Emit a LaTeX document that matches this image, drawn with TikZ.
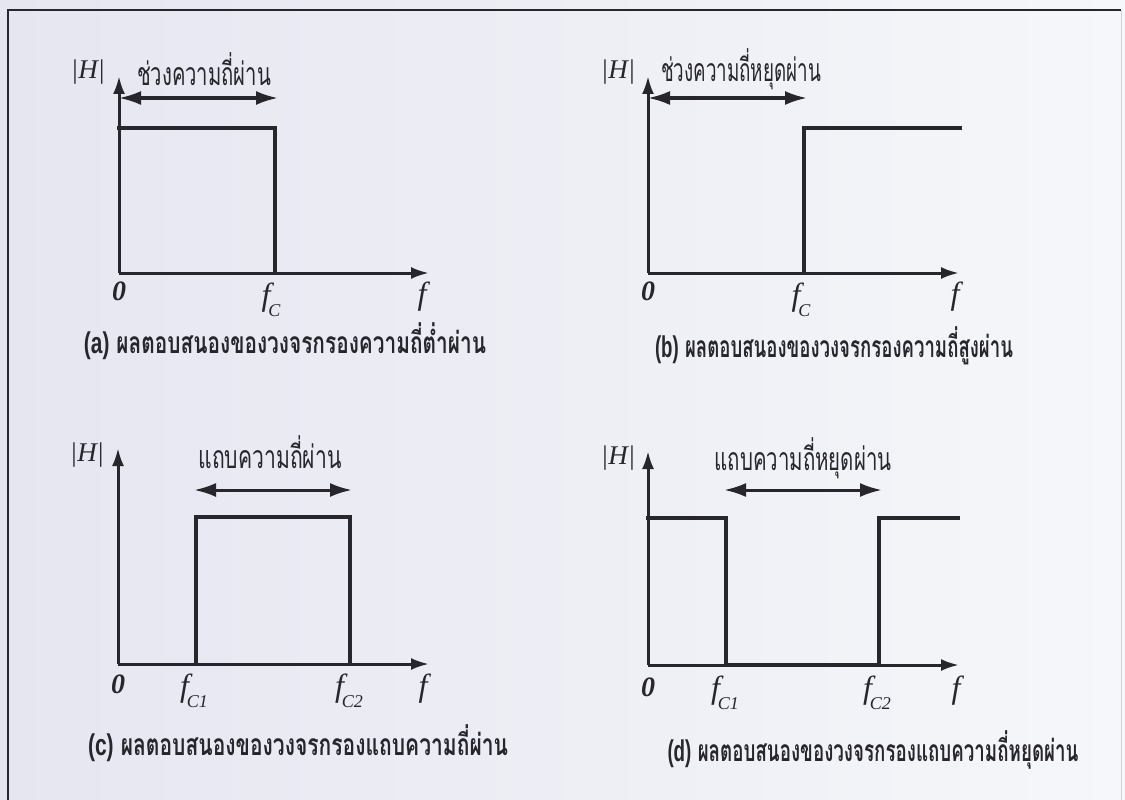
\documentclass[tikz,border=0pt]{standalone}
\usepackage{fontspec}
\usepackage{graphicx}
\setmainfont{Liberation Serif}
\setsansfont{Liberation Sans}
\newfontfamily\thaifont[Script=Thai]{Loma}
\usetikzlibrary{arrows.meta}
\definecolor{bgL}{RGB}{229,230,240}
\definecolor{bgR}{RGB}{246,247,250}
\definecolor{ink}{RGB}{38,38,44}
\newcommand\thw[2]{\resizebox{#1}{\height}{\thaifont #2}}
\newcommand\fsub[1]{\textit{f}\kern-2pt\raisebox{-0.36em}{\fontsize{18pt}{18pt}\selectfont\textit{#1}}}
\tikzset{
  axisline/.style={draw=ink, line width=3pt, -{Latex[length=18pt,width=12pt]}},
  resp/.style={draw=ink, line width=4pt, line cap=rect},
  dbl/.style={draw=ink, line width=3pt, {Latex[length=22pt,width=14pt]}-{Latex[length=22pt,width=14pt]}},
  ttl/.style={inner sep=0pt, text=ink, font=\fontsize{32pt}{32pt}\selectfont},
  capt/.style={inner sep=0pt, text=ink, font=\fontsize{30pt}{30pt}\selectfont\bfseries},
  lbl/.style={inner sep=0pt, text=ink, font=\fontsize{27pt}{27pt}\selectfont\itshape},
  zlbl/.style={inner sep=0pt, text=ink, font=\fontsize{28pt}{28pt}\selectfont\bfseries\itshape},
  flbl/.style={inner sep=0pt, text=ink, font=\fontsize{32pt}{32pt}\selectfont\itshape}
}
\begin{document}
\begin{tikzpicture}[x=1pt,y=-1pt]
\useasboundingbox (0,0) rectangle (1125,800);
\fill[left color=bgL, right color=bgR] (0,0) rectangle (1125,800);
% frame
\draw[line width=1.8pt, ink] (8,800) -- (8,10) -- (1121,10);
\draw[line width=0.8pt, gray!35] (1121,10) -- (1121,800);

% ---------- panel (a) ----------
\coordinate (a0) at (119,273);
\coordinate (ay) at (119,76);
\coordinate (ax) at (429,273);
\coordinate (aH) at (119,128);
\coordinate (aT) at (275,128);
\coordinate (aB) at (275,273);
\coordinate (aL) at (119,98);
\coordinate (aR) at (278,98);
\draw[axisline] (a0) -- (ay);
\draw[axisline] (a0) -- (ax);
\draw[resp] (aH) -- (aT) -- (aB);
\draw[dbl] (aL) -- (aR);
\node[lbl] (aHl) at (88,72) {|H|};
\node[ttl] (aTi) at (204,69) {\thw{134pt}{ช่วงความถี่ผ่าน}};
\node[zlbl] (azero) at (119,291) {0};
\node[flbl] (afc) at (271,300) {\fsub{C}};
\node[flbl] (af) at (422,297) {f};
\node[capt] (acap) at (285,341) {\thw{402pt}{{\sffamily (a)} ผลตอบสนองของวงจรกรองความถี่ต่ำผ่าน}};

% ---------- panel (b) ----------
\coordinate (b0) at (648,273);
\coordinate (by) at (648,76);
\coordinate (bx) at (959,273);
\coordinate (bB) at (804,273);
\coordinate (bT) at (804,128);
\coordinate (bE) at (960,128);
\coordinate (bL) at (648,98);
\coordinate (bR) at (807,98);
\draw[axisline] (b0) -- (by);
\draw[axisline] (b0) -- (bx);
\draw[resp] (bB) -- (bT) -- (bE);
\draw[dbl] (bL) -- (bR);
\node[lbl] (bHl) at (618,72) {|H|};
\node[ttl] (bTi) at (741,69) {\thw{160pt}{ช่วงความถี่หยุดผ่าน}};
\node[zlbl] (bzero) at (648,291) {0};
\node[flbl] (bfc) at (801,300) {\fsub{C}};
\node[flbl] (bf) at (955,297) {f};
\node[capt] (bcap) at (834,346) {\thw{358pt}{{\sffamily (b)} ผลตอบสนองของวงจรกรองความถี่สูงผ่าน}};

% ---------- panel (c) ----------
\coordinate (c0) at (118,664);
\coordinate (cy) at (118,448);
\coordinate (cx) at (429,664);
\coordinate (cB1) at (196,664);
\coordinate (cT1) at (196,517);
\coordinate (cT2) at (350,517);
\coordinate (cB2) at (350,664);
\coordinate (cL) at (194,490);
\coordinate (cR) at (352,490);
\draw[axisline] (c0) -- (cy);
\draw[axisline] (c0) -- (cx);
\draw[resp] (cB1) -- (cT1) -- (cT2) -- (cB2);
\draw[dbl] (cL) -- (cR);
\node[lbl] (cHl) at (87,455) {|H|};
\node[ttl] (cTi) at (270,452) {\thw{143pt}{แถบความถี่ผ่าน}};
\node[zlbl] (czero) at (118,684) {0};
\node[flbl] (cfc1) at (194,691) {\fsub{C1}};
\node[flbl] (cfc2) at (349,691) {\fsub{C2}};
\node[flbl] (cf) at (423,689) {f};
\node[capt] (ccap) at (298,743) {\thw{420pt}{{\sffamily (c)} ผลตอบสนองของวงจรกรองแถบความถี่ผ่าน}};

% ---------- panel (d) ----------
\coordinate (d0) at (648,665);
\coordinate (dy) at (648,451);
\coordinate (dx) at (959,665);
\coordinate (dH) at (648,518);
\coordinate (dT1) at (726,518);
\coordinate (dB1) at (726,665);
\coordinate (dB2) at (879,665);
\coordinate (dT2) at (879,518);
\coordinate (dE) at (958,518);
\coordinate (dL) at (724,490);
\coordinate (dR) at (882,490);
\draw[axisline] (d0) -- (dy);
\draw[axisline] (d0) -- (dx);
\draw[resp] (dH) -- (dT1) -- (dB1) -- (dB2) -- (dT2) -- (dE);
\draw[dbl] (dL) -- (dR);
\node[lbl] (dHl) at (618,458) {|H|};
\node[ttl] (dTi) at (803,458) {\thw{177pt}{แถบความถี่หยุดผ่าน}};
\node[zlbl] (dzero) at (648,687) {0};
\node[flbl] (dfc1) at (725,693) {\fsub{C1}};
\node[flbl] (dfc2) at (877,693) {\fsub{C2}};
\node[flbl] (df) at (956,691) {f};
\node[capt] (dcap) at (873,750) {\thw{411pt}{{\sffamily (d)} ผลตอบสนองของวงจรกรองแถบความถี่หยุดผ่าน}};
\end{tikzpicture}
\end{document}
